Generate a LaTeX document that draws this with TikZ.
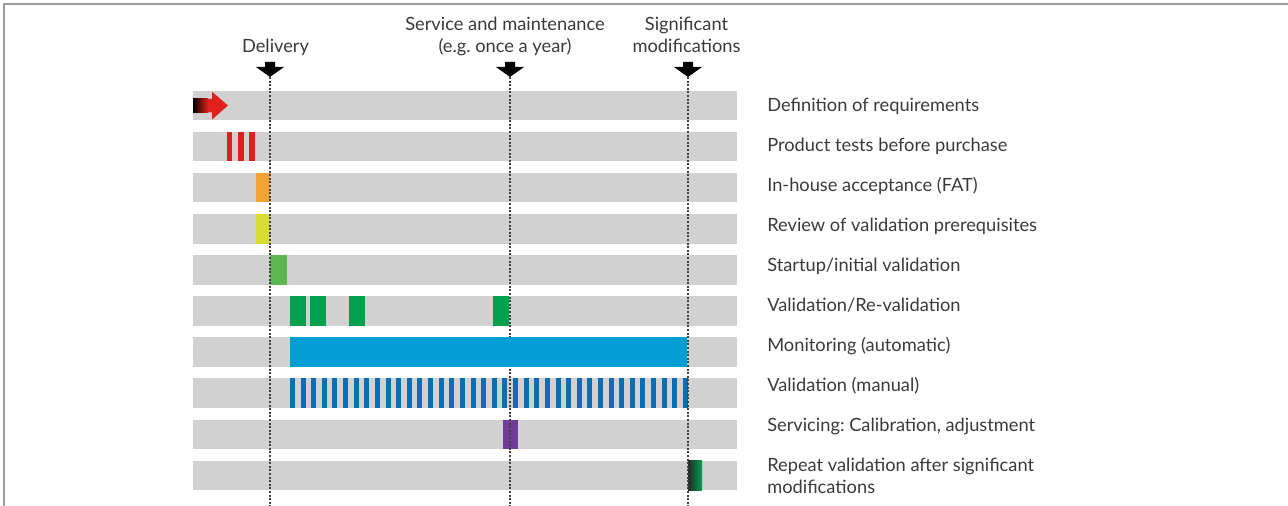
\documentclass[tikz,border=0pt]{standalone}
\usepackage{fontspec}
\setmainfont{Lato}
\usetikzlibrary{positioning}
\usepackage{xcolor}
\frenchspacing

\definecolor{bargray}{HTML}{D1D1D1}
\definecolor{framegray}{HTML}{9C9C9C}
\definecolor{labelgray}{HTML}{3A3A3A}
\definecolor{markgray}{HTML}{404040}
\definecolor{reqred}{HTML}{E0201C}
\definecolor{fatorange}{HTML}{F0A232}
\definecolor{revyellow}{HTML}{D9DC32}
\definecolor{startgreen}{HTML}{5CB54E}
\definecolor{valgreen}{HTML}{00A04F}
\definecolor{moncyan}{HTML}{009ED2}
\definecolor{manblue}{HTML}{0A6EB4}
\definecolor{servpurple}{HTML}{6E3D9A}

% a block filling the full height of one row: colour, x from, x to, row
\newcommand{\tlblock}[4]{\fill[#1] (#2,{\ryo+#4*\ry-\hh}) rectangle (#3,{\ryo+#4*\ry+\hh});}

\begin{document}
\begin{tikzpicture}[x=0.75pt, y=-0.75pt,
		every node/.style={font=\fontsize{13.7}{16.5}\selectfont, text=labelgray, inner sep=0pt},
		rowlabel/.style={anchor=base west, align=left},
		eventlabel/.style={anchor=base, align=center},
		eventline/.style={markgray, line width=1pt, dash pattern=on 1.5pt off 1.2pt}]
	% Drawing units are pixels, y grows downwards.
	\def\ry{41.1}
	\def\ryo{64.4}
	\def\hh{14.75}

	\useasboundingbox (0,0) rectangle (1288,506);
	\draw[framegray, line width=1.1pt] (4,506) -- (4,4) -- (1288,4);

	% Gray rows of the time line.
	\foreach \k in {1,...,10} {
		\fill[bargray] (193,{\ryo+\k*\ry-\hh}) rectangle (737,{\ryo+\k*\ry+\hh});
	}

	% Row 1: arrow, black fading into red.
	\fill[reqred] (193,99) -- (212,99) -- (212,91.7) -- (228,105.5)
		-- (212,119.5) -- (212,112.5) -- (193,112.5) -- cycle;
	\shade[left color=black, right color=reqred] (193,99) rectangle (208,112.5);

	% Row 2: three product tests.
	\foreach \x in {226.7,238,249.3} {
		\tlblock{reqred}{\x}{\x+5.5}{2}
	}

	% Rows 3 to 6.
	\tlblock{fatorange}{256}{270}{3}
	\tlblock{revyellow}{256}{270}{4}
	\tlblock{startgreen}{270}{286.5}{5}
	\foreach \x in {290,310,349,492.5} {
		\tlblock{valgreen}{\x}{\x+16}{6}
	}

	% Row 8: manual validation, one stripe per interval.
	\foreach \i in {0,...,37} {
		\tlblock{manblue}{290+\i*10.62}{295+\i*10.62}{8}
	}

	% Rows 9 and 10.
	\tlblock{servpurple}{502.7}{517.7}{9}
	\shade[left color=black!85, right color=valgreen]
		(688,{\ryo+10*\ry-\hh}) rectangle (702,{\ryo+10*\ry+\hh});

	% Events: marker arrow on top, dotted line down through all rows.
	\foreach \name/\x in {delivery/270, service/510, modif/688} {
		\coordinate (\name) at (\x,77);
		\coordinate (\name-end) at (\x,506);
		\fill[black] (\x-5,62) -- (\x+5,62) -- (\x+5,67) -- (\x+14,67)
			-- (\name) -- (\x-14,67) -- (\x-5,67) -- cycle;
		\draw[eventline] (\name) -- (\name-end);
	}

	% Row 7 covers the lines it crosses.
	\tlblock{moncyan}{290}{687.3}{7}

	\node[eventlabel] (delivery-label) at (275.5,53) {Delivery};
	\node[eventlabel] (service-label) at (505,53)
		{Service and maintenance\\(e.g. once a year)};
	\node[eventlabel] (modif-label) at (686.5,53)
		{Significant\\modifications};

	% Row captions.
	\foreach \k/\txt in {1/{Definition of requirements},
			2/{Product tests before purchase},
			3/{In-house acceptance (FAT)},
			4/{Review of validation prerequisites},
			5/{Startup/initial validation},
			6/{Validation/Re-validation},
			7/{Monitoring (automatic)},
			8/{Validation (manual)},
			9/{Servicing: Calibration, adjustment}} {
		\node[rowlabel] (row\k) at (767,{71.5+40*\k}) {\txt};
	}
	\node[rowlabel] (row10) at (767,493)
		{Repeat validation after significant\\modifications};
\end{tikzpicture}
\end{document}
